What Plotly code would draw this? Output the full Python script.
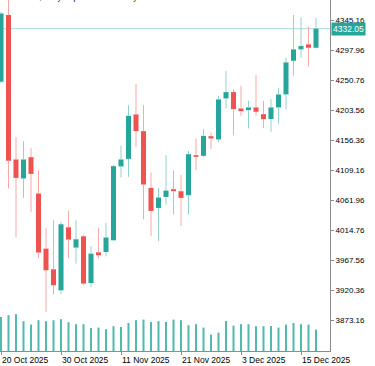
import plotly.graph_objects as go

# ---- data ----
dates = ["20 Oct 2025", "21 Oct 2025", "22 Oct 2025", "23 Oct 2025", "24 Oct 2025",
         "27 Oct 2025", "28 Oct 2025", "29 Oct 2025", "30 Oct 2025", "31 Oct 2025",
         "3 Nov 2025", "4 Nov 2025", "5 Nov 2025", "6 Nov 2025", "7 Nov 2025",
         "10 Nov 2025", "11 Nov 2025", "12 Nov 2025", "13 Nov 2025", "14 Nov 2025",
         "17 Nov 2025", "18 Nov 2025", "19 Nov 2025", "20 Nov 2025", "21 Nov 2025",
         "24 Nov 2025", "25 Nov 2025", "26 Nov 2025", "27 Nov 2025", "28 Nov 2025",
         "1 Dec 2025", "2 Dec 2025", "3 Dec 2025", "4 Dec 2025", "5 Dec 2025",
         "8 Dec 2025", "9 Dec 2025", "10 Dec 2025", "11 Dec 2025", "12 Dec 2025",
         "15 Dec 2025", "16 Dec 2025", "17 Dec 2025"]

opens = [4248.6, 4353.5, 4126.5, 4096.6, 4130.1, 4073.0, 3986.4, 3953.9, 3920.8, 4019.9,
         3988.0, 4005.8, 3932.3, 3980.6, 3981.1, 3999.5, 4115.5, 4127.4, 4197.3, 4171.0,
         4081.8, 4050.3, 4067.6, 4079.8, 4076.6, 4070.3, 4133.2, 4132.2, 4163.1, 4157.9,
         4222.4, 4232.4, 4206.7, 4204.0, 4208.3, 4197.7, 4189.9, 4208.3, 4228.7, 4281.6,
         4299.5, 4307.4, 4302.0]
highs = [4358.0, 4381.0, 4162.0, 4155.3, 4144.7, 4109.6, 4018.9, 4031.0, 4028.3, 4045.6,
         4031.0, 4008.5, 3990.1, 4018.9, 4026.5, 4118.0, 4148.5, 4211.9, 4245.0, 4211.9,
         4106.0, 4081.8, 4133.2, 4109.6, 4101.8, 4140.0, 4159.5, 4174.1, 4168.9, 4226.5,
         4265.4, 4236.6, 4242.3, 4218.7, 4259.1, 4218.7, 4221.3, 4239.1, 4286.3, 4353.5,
         4349.9, 4335.1, 4349.3]
lows = [4246.0, 4080.8, 4004.7, 4066.1, 4044.0, 3971.7, 3886.7, 3914.5, 3914.5, 3971.7,
        3962.9, 3928.7, 3926.0, 3970.7, 3974.3, 3998.0, 4098.2, 4099.1, 4145.8, 4032.5,
        4006.3, 3998.4, 4055.7, 4039.9, 4022.0, 4039.9, 4109.6, 4130.6, 4142.7, 4154.2,
        4206.7, 4164.7, 4195.1, 4175.2, 4195.1, 4176.2, 4169.9, 4183.1, 4205.1, 4258.0,
        4286.3, 4272.2, 4301.0]
closes = [4356.0, 4124.3, 4097.5, 4126.5, 4103.8, 3980.2, 3952.3, 3928.7, 4024.7, 4000.6,
          4001.1, 3931.4, 3978.6, 3975.9, 4003.9, 4116.0, 4126.5, 4195.1, 4171.0, 4087.1,
          4045.6, 4066.7, 4077.7, 4076.6, 4066.1, 4134.8, 4130.6, 4163.6, 4159.5, 4220.9,
          4232.4, 4205.6, 4202.4, 4208.3, 4201.4, 4189.9, 4208.3, 4228.7, 4279.1, 4299.5,
          4304.7, 4302.0, 4332.05]
volumes = [170, 179, 184, 149, 132, 154, 149, 154, 159, 144, 134, 134, 115, 117, 109,
           124, 120, 140, 154, 157, 145, 149, 145, 157, 154, 129, 134, 117, 82, 92,
           150, 127, 134, 134, 124, 124, 125, 117, 132, 140, 134, 132, 107]

price_ticks = [3873.16, 3920.36, 3967.56, 4014.76, 4061.96, 4109.16, 4156.36,
               4203.56, 4250.76, 4297.96, 4345.16]
price_tick_labels = ["3873.16", "3920.36", "3967.56", "4014.76", "4061.96", "4109.16",
                     "4156.36", "4203.56", "4250.76", "4297.96", "4345.16"]
date_tick_idx = [0, 8, 16, 24, 32, 40]
title_text = "XAUUSD, Daily:  Spot Gold 100 Troy Oz"

# ---- styling ----
UP, DN = "#26a69a", "#ef5350"
UPW, DNW = "#93d3cd", "#f7a9a7"
VOLC = "#52b9ae"
AX = "#8c8c8c"
FONT = "Liberation Sans, Arial, sans-serif"

n = len(dates)
idx = list(range(n))

body_base = [min(o, c) for o, c in zip(opens, closes)]
body_h = [abs(c - o) for o, c in zip(opens, closes)]
body_col = [UP if c >= o else DN for o, c in zip(opens, closes)]

wx = {True: [], False: []}
wy = {True: [], False: []}
for i in idx:
    up = closes[i] >= opens[i]
    top, bot = max(opens[i], closes[i]), min(opens[i], closes[i])
    wx[up] += [i, i, None, i, i, None]
    wy[up] += [top, highs[i], None, bot, lows[i], None]

fig = go.Figure()
fig.add_trace(go.Bar(x=idx, y=body_h, base=body_base, width=0.67,
                     marker=dict(color=body_col, line=dict(width=0)),
                     hoverinfo="skip"))
fig.add_trace(go.Scatter(x=wx[True], y=wy[True], mode="lines",
                         line=dict(color=UPW, width=1), hoverinfo="skip"))
fig.add_trace(go.Scatter(x=wx[False], y=wy[False], mode="lines",
                         line=dict(color=DNW, width=1), hoverinfo="skip"))
fig.add_trace(go.Bar(x=idx, y=volumes, width=0.27, yaxis="y2",
                     marker=dict(color=VOLC, line=dict(width=0)), hoverinfo="skip"))

last = closes[-1]
fig.add_shape(type="line", xref="paper", x0=0, x1=1, yref="y", y0=last, y1=last,
              line=dict(color="#a9ddd8", width=1), layer="below")

annotations = [
    dict(text=f"{last:.2f}", xref="paper", x=1, xanchor="left", xshift=1,
         yref="y", y=last, yanchor="middle", showarrow=False,
         bgcolor=UP, borderpad=1, font=dict(family=FONT, size=8.5, color="white")),
    dict(text=title_text, xref="paper", x=0, xanchor="left", xshift=4,
         yref="paper", y=1, yanchor="bottom", yshift=-4.5, showarrow=False,
         font=dict(family=FONT, size=8, color="black")),
]
for k in date_tick_idx:
    annotations.append(dict(text=dates[k], xref="x", x=k, xanchor="left", xshift=-1,
                            yref="paper", y=0, yanchor="top", yshift=-1.5,
                            showarrow=False,
                            font=dict(family=FONT, size=8.5, color="black")))

fig.update_layout(
    width=375, height=366,
    margin=dict(l=0, r=45, t=0, b=15),
    paper_bgcolor="white", plot_bgcolor="white",
    showlegend=False, barmode="overlay",
    xaxis=dict(range=[-0.133, 43.867], tickvals=date_tick_idx, ticks="outside",
               ticklen=3, tickcolor=AX, showticklabels=False, showgrid=False,
               zeroline=False, showline=True, linecolor=AX, linewidth=1),
    yaxis=dict(side="right", range=[3825.5, 4377.1], tickvals=price_ticks,
               ticktext=price_tick_labels, ticks="outside", ticklen=3, tickcolor=AX,
               showgrid=False, zeroline=False, showline=True, mirror=True,
               linecolor=AX, linewidth=1,
               tickfont=dict(family=FONT, size=8, color="black")),
    yaxis2=dict(overlaying="y", range=[0, 1755], visible=False),
    annotations=annotations,
)

fig.write_html("out.html",
               config={"displayModeBar": False, "staticPlot": True},
               post_script="document.body.style.margin='0px';"
                           "document.body.style.overflow='hidden';")
